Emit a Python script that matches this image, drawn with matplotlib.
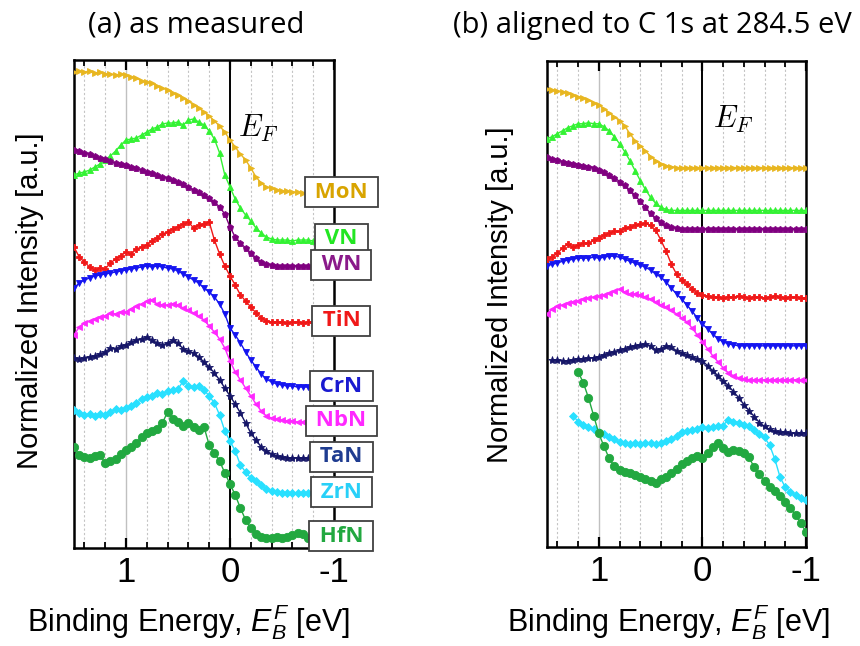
import matplotlib
matplotlib.use("Agg")
import matplotlib.pyplot as plt
import numpy as np
from matplotlib.ticker import MultipleLocator

nan = np.nan

# ---------------------------------------------
# Daten, Intensitaet in willk. Einheiten
# ---------------------------------------------
energy = [1.50, 1.45, 1.40, 1.35, 1.30, 1.25, 1.20, 1.15, 1.10, 1.05,
          1.00, 0.95, 0.90, 0.85, 0.80, 0.75, 0.70, 0.65, 0.60, 0.55,
          0.50, 0.45, 0.40, 0.35, 0.30, 0.25, 0.20, 0.15, 0.10, 0.05,
          0.00, -0.05, -0.10, -0.15, -0.20, -0.25, -0.30, -0.35, -0.40, -0.45,
          -0.50, -0.55, -0.60, -0.65, -0.70, -0.75, -0.80, -0.85, -0.90, -0.95, -1.00]

names = ["MoN", "VN", "WN", "TiN", "CrN", "NbN", "TaN", "ZrN", "HfN"]

# (a) as measured
mon_a = [476, 477, 476, 477, 475, 476, 474, 474, 473, 474,
         473, 471, 470, 467, 466, 465, 462, 460, 458, 455,
         453, 450, 447, 443, 440, 436, 432, 427, 422, 416,
         408, 401, 394, 388, 380, 371, 365, 361, 360, 358,
         357, 357, 356, 356, 355, 355, 355, 355, 355, 355, 355]
vn_a = [373, 375, 376, 378, 381, 384, 388, 392, 397, 403,
        408, 409, 410, 413, 416, 419, 421, 424, 425, 425,
        426, 423, 428, 429, 426, 423, 417, 409, 395, 373,
        361, 349, 340, 333, 327, 320, 315, 311, 309, 308,
        308, 308, 307, 308, 308, 308, 307, 308, 308, 308, 308]
wn_a = [398, 397, 395, 394, 392, 390, 389, 387, 385, 384,
        383, 381, 380, 378, 376, 375, 373, 371, 370, 368,
        366, 364, 361, 358, 356, 353, 350, 346, 341, 334,
        321, 311, 305, 300, 295, 290, 286, 284, 283, 282,
        282, 282, 282, 282, 282, 282, 282, 282, 282, 282, 282]
tin_a = [301, 291, 286, 281, 278, 280, 279, 285, 289, 292,
         296, 294, 299, 301, 303, 307, 310, 314, 316, 319,
         321, 324, 326, 320, 323, 324, 326, 308, 294, 282,
         272, 263, 253, 247, 241, 235, 230, 227, 226, 226,
         226, 225, 226, 226, 225, 226, 226, 225, 226, 226, 226]
crn_a = [260, 265, 268, 270, 272, 273, 274, 275, 276, 277,
         278, 279, 280, 281, 282, 281, 282, 281, 280, 279,
         277, 274, 271, 268, 265, 260, 256, 251, 244, 234,
         220, 213, 205, 196, 188, 181, 174, 169, 166, 164,
         163, 162, 162, 161, 161, 161, 161, 161, 161, 161, 161]
nbn_a = [213, 221, 225, 227, 229, 231, 232, 235, 234, 236,
         236, 239, 242, 244, 247, 248, 244, 243, 243, 244,
         243, 240, 238, 235, 232, 228, 222, 216, 209, 200,
         187, 176, 168, 160, 152, 144, 137, 132, 130, 129,
         128, 127, 127, 126, 126, 126, 126, 126, 126, 126, 126]
tan_a = [190, 189, 190, 191, 192, 194, 196, 200, 199, 202,
         203, 206, 208, 209, 211, 208, 205, 203, 205, 208,
         205, 199, 197, 195, 191, 186, 181, 175, 168, 160,
         152, 144, 135, 125, 115, 108, 101, 97, 94, 92,
         91, 90, 90, 90, 90, 90, 90, 90, 90, 90, 90]
zrn_a = [138, 135, 133, 134, 132, 134, 133, 136, 139, 138,
         140, 142, 145, 149, 151, 152, 155, 154, 157, 158,
         159, 167, 162, 161, 162, 158, 152, 145, 133, 117,
         107, 97, 83, 76, 70, 67, 63, 59, 57, 56,
         55, 55, 55, 55, 55, 55, 55, 55, 55, 55, 55]
hfn_a = [101, 93, 91, 90, 92, 93, 85, 87, 89, 94,
         98, 101, 105, 111, 115, 117, 119, 125, 136, 129,
         126, 122, 125, 121, 118, 121, 103, 95, 87, 75,
         64, 53, 40, 28, 20, 14, 11, 10, 10, 11,
         10, 11, 13, 15, 14, 10, 11, 11, 11, 11, 11]

# (b) aligned to C 1s
mon_b = [460, 459, 458, 457, 456, 454, 452, 451, 449, 446,
         444, 440, 436, 432, 428, 423, 415, 408, 403, 398,
         392, 388, 385, 383, 382, 381, 381, 381, 381, 381,
         381, 381, 381, 381, 381, 381, 381, 381, 381, 381,
         381, 381, 381, 381, 381, 381, 381, 381, 381, 381, 381]
vn_b = [410, 412, 415, 418, 421, 423, 425, 425, 426, 425,
        425, 422, 418, 412, 405, 397, 388, 378, 368, 359,
        351, 345, 341, 339, 338, 338, 338, 338, 338, 338,
        338, 338, 338, 338, 338, 338, 338, 338, 338, 338,
        338, 338, 338, 338, 338, 338, 338, 338, 338, 338, 338]
wn_b = [392, 390, 389, 387, 386, 385, 384, 383, 382, 381,
        379, 377, 374, 371, 367, 363, 358, 353, 347, 341,
        335, 330, 326, 323, 321, 320, 319, 319, 319, 319,
        319, 319, 319, 319, 319, 319, 319, 319, 319, 319,
        319, 319, 319, 319, 319, 319, 319, 319, 319, 319, 319]
tin_b = [289, 291, 295, 300, 304, 301, 303, 305, 305, 308,
         310, 313, 315, 317, 317, 320, 321, 323, 324, 325,
         323, 318, 308, 297, 284, 274, 268, 264, 259, 255,
         253, 252, 251, 251, 250, 251, 251, 252, 251, 250,
         251, 251, 250, 251, 252, 251, 250, 251, 251, 250, 250]
crn_b = [282, 284, 285, 287, 288, 289, 290, 290, 290, 291,
         290, 291, 292, 292, 291, 289, 287, 285, 283, 281,
         278, 274, 271, 266, 260, 254, 249, 243, 237, 230,
         224, 219, 214, 209, 206, 204, 203, 202, 202, 202,
         202, 202, 202, 202, 202, 202, 202, 202, 202, 202, 202]
nbn_b = [234, 239, 242, 243, 245, 246, 247, 249, 250, 251,
         252, 253, 255, 257, 259, 256, 254, 254, 253, 251,
         249, 246, 243, 241, 238, 234, 230, 226, 220, 213,
         206, 199, 192, 186, 180, 175, 172, 170, 169, 168,
         168, 168, 168, 168, 168, 168, 168, 168, 168, 168, 168]
tan_b = [nan, 188, 188, 187, 187, 188, 189, 189, 190, 190,
         191, 193, 195, 196, 198, 199, 201, 202, 203, 204,
         202, 198, 199, 202, 201, 197, 195, 193, 191, 189,
         187, 182, 177, 172, 167, 162, 156, 150, 143, 137,
         131, 125, 121, 118, 116, 115, 115, 114, 114, 114, 114]
zrn_b = [nan, nan, nan, nan, nan, 132, 126, 123, 120, 118,
         115, 113, 110, 108, 105, 104, 103, 104, 103, 104,
         104, 103, 104, 106, 108, 111, 115, 116, 117, 118,
         120, 119, 120, 121, 122, 128, 126, 125, 123, 121,
         117, 113, 110, 102, 88, 70, 60, 55, 52, 49, 47]
hfn_b = [nan, nan, nan, nan, nan, nan, 176, 165, 150, 132,
         114, 101, 89, 81, 77, 75, 74, 72, 70, 68,
         66, 64, 68, 70, 74, 78, 83, 86, 89, 91,
         89, 94, 100, 104, 99, 95, 97, 96, 94, 90,
         80, 73, 66, 60, 56, 51, 45, 39, 32, 24, 15]

series_a = [mon_a, vn_a, wn_a, tin_a, crn_a, nbn_a, tan_a, zrn_a, hfn_a]
series_b = [mon_b, vn_b, wn_b, tin_b, crn_b, nbn_b, tan_b, zrn_b, hfn_b]

# ---------------------------------------------
# Stil
# ---------------------------------------------
colors = ["#e8b620", "#33f233", "#800080", "#f01818", "#1414f0",
          "#ff28ff", "#161668", "#28e0ff", "#22a840"]
label_colors = ["#d8a400", "#22e622", "#8a1a8a", "#f01818", "#1a1ad0",
                "#ff28ff", "#1f3c90", "#28d0f8", "#22a840"]
markers = [">", "^", "p", "P", "v", "<", "*", "D", "o"]
msizes = [5, 5, 5, 4, 5, 5, 6, 4.5, 6]
grid_dashed = [1.4, 1.2, 0.8, 0.6, 0.4, 0.2, -0.2, -0.4, -0.6, -0.8]

plt.rcParams["font.family"] = ["Liberation Sans", "DejaVu Sans"]
plt.rcParams["mathtext.fontset"] = "custom"
plt.rcParams["mathtext.rm"] = "Liberation Sans"
plt.rcParams["mathtext.it"] = "Liberation Sans:italic"

fig = plt.figure(figsize=(8.6, 6.46), dpi=100)
ax_a = fig.add_axes([74 / 860, 98 / 646, 260 / 860, 488 / 646])
ax_b = fig.add_axes([547 / 860, 99 / 646, 259 / 860, 486 / 646])


def setup(ax):
    ax.set_xlim(1.5, -1.0)
    ax.set_ylim(0, 488)
    ax.set_xticks([1, 0, -1])
    ax.set_xticklabels(["1", "0", "-1"])
    ax.xaxis.set_minor_locator(MultipleLocator(0.2))
    ax.tick_params(axis="x", which="both", direction="in", top=True,
                   bottom=True, labelsize=25, pad=6)
    ax.tick_params(axis="x", which="major", length=7, width=1.6)
    ax.tick_params(axis="x", which="minor", length=4.5, width=1.3)
    ax.set_yticks([])
    for s in ax.spines.values():
        s.set_linewidth(1.8)
    for e in grid_dashed:
        ax.axvline(e, color="#c4c4c4", ls=(0, (2, 2)), lw=0.8, zorder=0)
    ax.axvline(1.0, color="#c0c0c0", lw=1.0, zorder=0)
    ax.axvline(0.0, color="black", lw=1.4, zorder=1)


for ax, series in [(ax_a, series_a), (ax_b, series_b)]:
    setup(ax)
    for vals, c, m, ms in zip(series, colors, markers, msizes):
        ax.plot(energy, vals, color=c, marker=m, markersize=ms, lw=1.0,
                mec=c, mew=0.6, zorder=3)

# Probenbeschriftung rechts neben (a)
for name, vals, lc in zip(names, series_a, label_colors):
    ax_a.text(-1.07, vals[-1] + 1, f" {name} ", ha="center", va="center",
              color=lc, fontsize=16, fontweight="bold", family="Open Sans",
              bbox=dict(boxstyle="square,pad=0.2", fc="white",
                        ec="#404040", lw=1.3),
              clip_on=False, zorder=10)

ax_a.text(-0.08, 420, r"$E_F$", fontsize=22, math_fontfamily="cm",
          ha="left", va="center")
ax_b.text(-0.10, 429, r"$E_F$", fontsize=22, math_fontfamily="cm",
          ha="left", va="center")

fig.text(196 / 860, 1 - 25 / 646, "(a) as measured", ha="center",
         va="center", family="Open Sans", fontsize=21)
fig.text(453 / 860, 1 - 25 / 646, "(b) aligned to C 1s at 284.5 eV",
         ha="left", va="center", family="Open Sans", fontsize=21)

fig.text(30 / 860, 1 - 301 / 646, "Normalized Intensity [a.u.]",
         rotation=90, ha="center", va="center", fontsize=21)
fig.text(500 / 860, 1 - 295 / 646, "Normalized Intensity [a.u.]",
         rotation=90, ha="center", va="center", fontsize=21)

fig.text(188 / 860, 1 - 632 / 646, r"Binding Energy, $E_B^F$ [eV]",
         ha="center", va="baseline", fontsize=22)
fig.text(668 / 860, 1 - 632 / 646, r"Binding Energy, $E_B^F$ [eV]",
         ha="center", va="baseline", fontsize=22)

fig.savefig("out.png", dpi=100)
